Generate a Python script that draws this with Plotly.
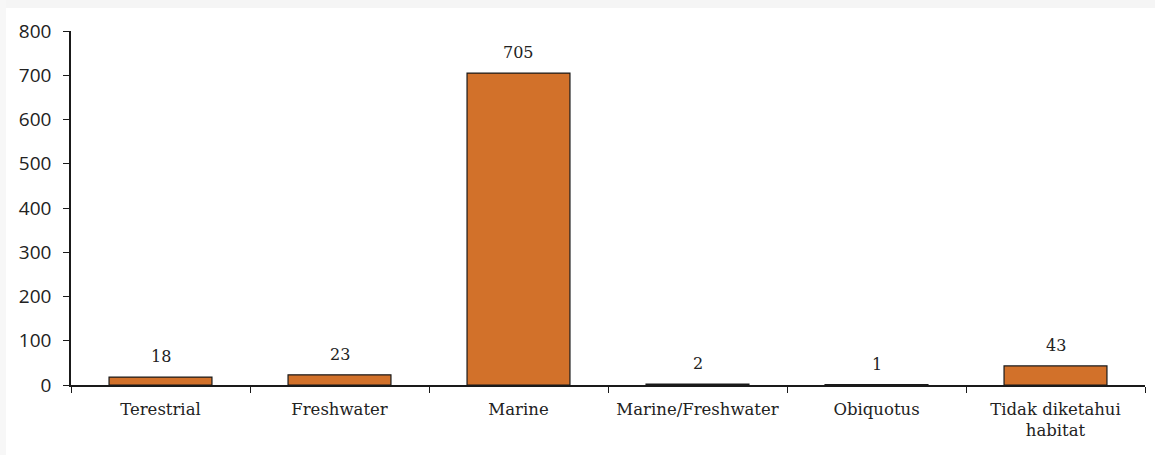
import plotly.graph_objects as go

categories = ["Terestrial", "Freshwater", "Marine", "Marine/Freshwater", "Obiquotus", "Tidak diketahui<br>habitat"]
counts = [18, 23, 705, 2, 1, 43]
y_ticks = [0, 100, 200, 300, 400, 500, 600, 700, 800]

BAR_COLOR = "#D2712A"
INK = "#1a1a1a"
SERIF = "DejaVu Serif, Liberation Serif, serif"
SANS = "Open Sans, Liberation Sans, sans-serif"

fig = go.Figure(
    go.Bar(
        x=categories,
        y=counts,
        marker=dict(color=BAR_COLOR, line=dict(color=INK, width=1.2)),
        width=0.575,
        hoverinfo="x+y",
    )
)

# value labels sitting above each bar
for cat, val in zip(categories, counts):
    fig.add_annotation(
        x=cat, y=val, xref="x", yref="y",
        text=str(val), showarrow=False,
        yanchor="bottom", yshift=9,
        font=dict(family=SERIF, size=16, color="#222222"),
    )

# faint page shadow along the top and left edges
fig.add_shape(type="rect", xref="paper", yref="paper", layer="below",
              x0=-71 / 1074, x1=1084 / 1074, y0=1 + 23 / 354, y1=1 + 31 / 354,
              fillcolor="#f5f5f5", line_width=0)
fig.add_shape(type="rect", xref="paper", yref="paper", layer="below",
              x0=-71 / 1074, x1=-65 / 1074, y0=-70 / 354, y1=1 + 31 / 354,
              fillcolor="#f7f7f7", line_width=0)

fig.update_layout(
    width=1155,
    height=455,
    margin=dict(l=71, r=10, t=31, b=70),
    paper_bgcolor="white",
    plot_bgcolor="white",
    showlegend=False,
)

fig.update_xaxes(
    type="category",
    showline=True,
    linecolor=INK,
    linewidth=1.5,
    ticks="outside",
    tickson="boundaries",
    ticklen=6,
    tickcolor=INK,
    ticklabelstandoff=8,
    tickfont=dict(family=SERIF, size=16.5, color="#222222"),
    showgrid=False,
)

fig.update_yaxes(
    range=[0, 800],
    tickvals=y_ticks,
    showline=True,
    linecolor=INK,
    linewidth=1.5,
    ticks="outside",
    ticklen=6,
    tickcolor=INK,
    ticklabelstandoff=8,
    tickfont=dict(family=SANS, size=19, color="#222222"),
    showgrid=False,
    zeroline=False,
)

fig.write_html("out.html")
